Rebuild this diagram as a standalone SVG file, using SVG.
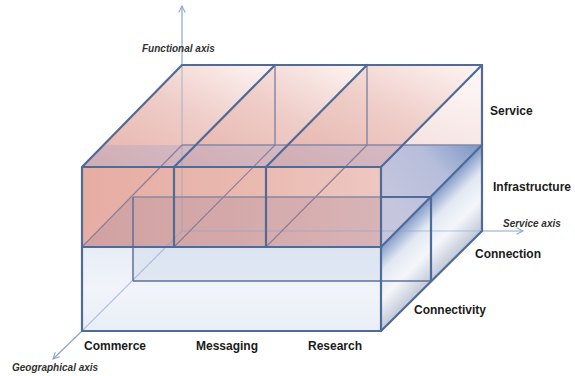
<svg xmlns="http://www.w3.org/2000/svg" width="575" height="376" viewBox="0 0 575 376">
<defs>
<linearGradient id="gTop" x1="0" y1="1" x2="1" y2="0">
<stop offset="0" stop-color="#e6b1a9"/><stop offset="0.55" stop-color="#efcdc8"/><stop offset="1" stop-color="#fdf6f5"/>
</linearGradient>
<linearGradient id="gBack" x1="0" y1="1" x2="1" y2="0">
<stop offset="0" stop-color="#f0d4d0"/><stop offset="1" stop-color="#fefafa"/>
</linearGradient>
<linearGradient id="gFront" x1="0" y1="0" x2="1" y2="0">
<stop offset="0" stop-color="#e6ada3"/><stop offset="0.5" stop-color="#e9b7ae"/><stop offset="1" stop-color="#eec7c1"/>
</linearGradient>
<linearGradient id="gLow" x1="0" y1="0" x2="0" y2="1">
<stop offset="0" stop-color="#e7edf6"/><stop offset="0.5" stop-color="#f1f4fa"/><stop offset="1" stop-color="#e9eef6"/>
</linearGradient>
<linearGradient id="gRU" gradientUnits="userSpaceOnUse" x1="482" y1="145" x2="400" y2="215">
<stop offset="0" stop-color="#7b95c5"/><stop offset="0.45" stop-color="#b6bedb"/><stop offset="1" stop-color="#c6c5de"/>
</linearGradient>
<linearGradient id="gRL" gradientUnits="userSpaceOnUse" x1="381" y1="247" x2="423" y2="289">
<stop offset="0" stop-color="#859dca"/><stop offset="0.3" stop-color="#e2e8f3"/><stop offset="0.62" stop-color="#f4f6fa"/><stop offset="1" stop-color="#c2c9d7"/>
</linearGradient>
<marker id="ah" viewBox="0 0 10 10" refX="9" refY="5" markerWidth="8" markerHeight="8" markerUnits="userSpaceOnUse" orient="auto">
<path d="M1,1 L9,5 L1,9" fill="none" stroke="#8aa5cb" stroke-width="1.3"/>
</marker>
</defs>
<style>
.thick{fill:none;stroke:#4f6b97;stroke-width:2.2;stroke-linejoin:round;stroke-linecap:round}
.med{fill:none;stroke:#5f7199;stroke-width:1.5}
.back{fill:none;stroke:#8a87a3;stroke-width:1.5}
.thin{fill:none;stroke:#8a7d98;stroke-width:1.1}
.axis{fill:none;stroke:#8aa5cb;stroke-width:1.2}
.lbl{font-family:"Liberation Sans",Arial,sans-serif;font-weight:bold;font-size:12px;fill:#1b1b1b}
.ax{font-family:"Liberation Sans",Arial,sans-serif;font-weight:bold;font-style:italic;font-size:10px;fill:#333}
</style>

<g id="box-fills">
<polygon points="182,65 482,65 482,145 182,145" fill="url(#gBack)"/>
<polygon points="82,167 182,65 275,65 174,167" fill="url(#gTop)"/>
<polygon points="174,167 275,65 367,65 266,167" fill="url(#gTop)"/>
<polygon points="266,167 367,65 482,65 381,167" fill="url(#gTop)"/>
<polygon points="104,145 482,145 460,167 82,167" fill="#a8a3c8" opacity="0.35"/>
<polygon points="82,167 381,167 381,247 82,247" fill="url(#gFront)"/>
<polygon points="82,247 381,247 431,197 132,197" fill="#a4879f" opacity="0.3"/>
<polygon points="82,247 381,247 381,331 82,331" fill="url(#gLow)"/>
<polygon points="133,247 381,247 381,281 133,281" fill="#cfd9ec" opacity="0.45"/>
<polygon points="381,167 403,145 482,145 381,247" fill="url(#gRU)"/>
<polygon points="381,247 482,145 482,231 381,331" fill="url(#gRL)"/>
</g>

<g id="axes">
<line class="axis" x1="182" y1="231" x2="182" y2="65" opacity="0.6"/>
<line class="axis" x1="182" y1="65" x2="182" y2="6" marker-end="url(#ah)"/>
<line class="axis" x1="182" y1="231" x2="482" y2="231" opacity="0.6"/>
<line class="axis" x1="482" y1="231" x2="523" y2="231" marker-end="url(#ah)"/>
<line class="axis" x1="182" y1="231" x2="82" y2="331" opacity="0.6"/>
<line class="axis" x1="82" y1="331" x2="53" y2="359" marker-end="url(#ah)"/>
</g>

<g id="connectors">
<polyline class="back" points="182,145 482,145"/>
<line class="back" x1="275" y1="65" x2="275" y2="145"/>
<line class="back" x1="367" y1="65" x2="367" y2="145"/>
<line class="thin" x1="82" y1="247" x2="182" y2="145"/>
<line class="thin" x1="174" y1="247" x2="275" y2="145"/>
<line class="thin" x1="266" y1="247" x2="367" y2="145"/>
<line class="back" x1="133" y1="197" x2="381" y2="197"/>
<line class="med" x1="133" y1="197" x2="133" y2="281"/>
<line class="med" x1="133" y1="281" x2="431" y2="281"/>
<polyline class="thick" points="82,167 182,65 482,65 381,167 82,167 82,331 381,331 381,167"/>
<line class="thick" x1="82" y1="247" x2="381" y2="247"/>
<line class="thick" x1="174" y1="167" x2="174" y2="247"/>
<line class="thick" x1="266" y1="167" x2="266" y2="247"/>
<line class="thick" x1="174" y1="167" x2="275" y2="65"/>
<line class="thick" x1="266" y1="167" x2="367" y2="65"/>
<polyline class="thick" points="482,65 482,231 381,331"/>
<line class="thick" x1="381" y1="247" x2="482" y2="145"/>
<polyline class="thick" points="381,197 431,197 431,281"/>
</g>

<g id="label-service"><text class="lbl" x="490" y="115">Service</text></g>
<g id="label-infrastructure"><text class="lbl" x="493" y="191">Infrastructure</text></g>
<g id="label-connection"><text class="lbl" x="475" y="258">Connection</text></g>
<g id="label-connectivity"><text class="lbl" x="414" y="314">Connectivity</text></g>
<g id="label-commerce"><text class="lbl" x="84" y="350">Commerce</text></g>
<g id="label-messaging"><text class="lbl" x="196" y="350">Messaging</text></g>
<g id="label-research"><text class="lbl" x="308" y="350">Research</text></g>
<g id="label-functional"><text class="ax" x="142" y="52">Functional axis</text></g>
<g id="label-serviceaxis"><text class="ax" x="503" y="227">Service axis</text></g>
<g id="label-geo"><text class="ax" x="12" y="371">Geographical axis</text></g>
</svg>
